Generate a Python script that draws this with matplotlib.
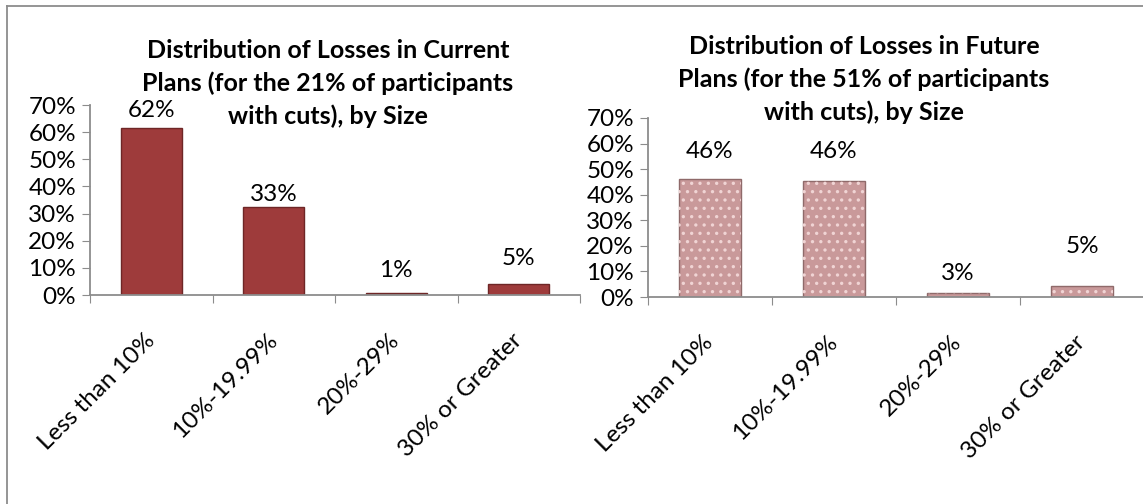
import matplotlib.pyplot as plt
import numpy as np
from matplotlib.lines import Line2D

plt.rcParams['font.family'] = ['Lato', 'DejaVu Sans']
plt.rcParams['hatch.linewidth'] = 1.2

categories = ['Less than 10%', '10%-19.99%', '20%-29%', '30% or Greater']

current_vals = [61.5, 32.3, 0.85, 3.9]
current_labels = ['62%', '33%', '1%', '5%']
future_vals = [46.0, 45.4, 1.5, 4.4]
future_labels = ['46%', '46%', '3%', '5%']

current_title = ['Distribution of Losses in Current', 'Plans (for the 21% of participants',
                 'with cuts), by Size']
future_title = ['Distribution of Losses in Future', 'Plans (for the 51% of participants',
                'with cuts), by Size']

W, H = 1143, 504
fig = plt.figure(figsize=(W / 100, H / 100), dpi=100)

# outer chart frame (top + left edges visible)
fig.add_artist(Line2D([7 / W, 1], [1 - 6 / H, 1 - 6 / H], color='#8c8c8c', lw=1.3))
fig.add_artist(Line2D([7 / W, 7 / W], [0, 1 - 6 / H], color='#8c8c8c', lw=1.3))


def draw(rect, vals, labels, title, face, edge, label_px, title_x, title_y0, dotted=False):
    ax = fig.add_axes(rect)
    x = np.arange(len(categories))
    ax.bar(x, vals, width=0.5, color=face, edgecolor=edge, linewidth=1.0, zorder=2)
    if dotted:
        ax.bar(x, vals, width=0.5, fill=False, edgecolor='#f0d4d4', linewidth=0,
               zorder=3, hatch='..')
    ax.set_xlim(-0.5, 3.5)
    ax.set_ylim(0, 70)
    ax.set_yticks(np.arange(0, 71, 10))
    ax.set_yticklabels([f'{v}%' for v in range(0, 71, 10)], fontsize=17.5)
    ax.set_xticks(np.arange(-0.5, 3.6, 1))
    ax.set_xticklabels([])
    ax.set_xticks(x, minor=True)
    ax.set_xticklabels(categories, minor=True, rotation=45, ha='right', va='center',
                       rotation_mode='anchor', fontsize=17.5)
    ax.tick_params(axis='x', which='minor', length=0, pad=30)
    ax.tick_params(axis='x', which='major', length=6, color='#8c8c8c', direction='out')
    ax.tick_params(axis='y', length=6, color='#8c8c8c', direction='out', pad=4)
    for s in ['top', 'right']:
        ax.spines[s].set_visible(False)
    for s in ['left', 'bottom']:
        ax.spines[s].set_color('#8c8c8c')
        ax.spines[s].set_linewidth(1.3)
    for xi, v, lab, off in zip(x, vals, labels, label_px):
        ax.annotate(lab, (xi, v), xytext=(0, off), textcoords='offset pixels',
                    ha='center', va='center', fontsize=17.5)
    for i, line in enumerate(title):
        fig.text(title_x / W, 1 - (title_y0 + 33 * i) / H, line, ha='center',
                 va='center', fontsize=18, fontweight='bold')
    return ax


draw([90 / W, 1 - 295 / H, 490 / W, 190 / H], current_vals, current_labels, current_title,
     '#9e3b3b', '#6e2626', [18, 13, 22, 26], 328, 50)
draw([648 / W, 1 - 297 / H, 496 / W, 179 / H], future_vals, future_labels, future_title,
     '#c9999a', '#8f6a6a', [28, 29, 20, 39], 864, 46, dotted=True)

fig.savefig('out.png', dpi=100)
